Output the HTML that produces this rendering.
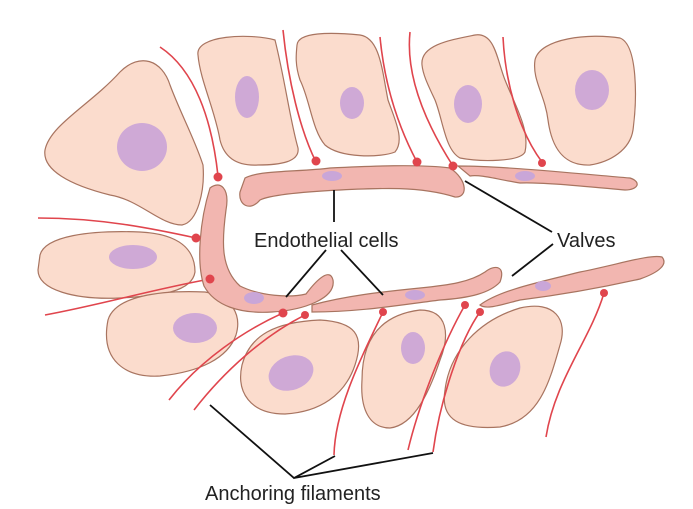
<!DOCTYPE html>
<html><head><meta charset="utf-8"><style>
html,body{margin:0;padding:0;background:#fff;width:693px;height:509px;overflow:hidden}
svg{display:block}
text{font-family:"Liberation Sans",sans-serif;fill:#222}
</style></head><body>
<svg width="693" height="509" viewBox="0 0 693 509">
<g fill="#fbdccd" stroke="#a87460" stroke-width="1.2">
<path d="M45,150 C50,125 90,105 120,72 C140,52 162,60 170,85 C180,112 195,140 203,165 C205,190 198,222 182,225 C160,225 140,200 110,195 C70,185 42,170 45,150 Z"/>
<path d="M198,55 C195,35 250,33 275,40 C285,80 290,120 298,148 C300,162 280,165 258,165 C240,166 225,160 220,140 C215,110 200,80 198,55 Z"/>
<path d="M297,45 C298,32 330,32 360,35 C380,38 382,70 388,100 C395,120 405,140 395,152 C380,158 340,158 325,145 C312,130 310,100 300,80 C295,65 296,55 297,45 Z"/>
<path d="M422,65 C420,45 450,40 475,35 C495,32 497,60 505,80 C515,105 530,130 525,152 C520,162 480,162 460,158 C445,150 443,120 435,100 C428,85 423,75 422,65 Z"/>
<path d="M535,60 C540,38 590,33 620,38 C638,45 637,100 633,130 C630,150 610,162 590,165 C565,166 552,150 548,120 C545,95 532,80 535,60 Z"/>
<path d="M40,255 C45,236 90,230 140,232 C180,234 195,250 195,272 C192,292 160,296 120,298 C75,300 38,290 38,270 Z"/>
<path d="M108,320 C115,296 160,290 205,292 C232,296 242,315 236,335 C228,358 200,372 160,376 C125,378 100,360 108,320 Z"/>
<path d="M242,365 C250,335 275,322 320,320 C355,322 365,335 355,365 C345,395 320,412 285,414 C250,414 236,392 242,365 Z"/>
<path d="M362,380 C362,340 380,315 420,310 C448,310 450,335 440,360 C430,390 415,425 390,428 C370,428 360,410 362,380 Z"/>
<path d="M445,390 C450,350 480,320 520,308 C555,300 568,320 560,345 C550,380 540,420 500,427 C460,430 440,420 445,390 Z"/>
</g>
<g fill="#cfa9d6">
<ellipse cx="142" cy="147" rx="25" ry="24"/>
<ellipse cx="247" cy="97" rx="12" ry="21"/>
<ellipse cx="352" cy="103" rx="12" ry="16"/>
<ellipse cx="468" cy="104" rx="14" ry="19"/>
<ellipse cx="592" cy="90" rx="17" ry="20"/>
<ellipse cx="133" cy="257" rx="24" ry="12"/>
<ellipse cx="195" cy="328" rx="22" ry="15"/>
<ellipse cx="291" cy="373" rx="23" ry="17" transform="rotate(-20 291 373)"/>
<ellipse cx="413" cy="348" rx="12" ry="16"/>
<ellipse cx="505" cy="369" rx="15" ry="18" transform="rotate(20 505 369)"/>
</g>
<g stroke="#e0454d" stroke-width="1.6" fill="none">
<path d="M160,47 C195,70 212,120 218,176"/>
<path d="M283,30 C288,80 300,130 316,162"/>
<path d="M380,37 C385,90 400,130 417,162"/>
<path d="M410,32 C405,80 430,130 453,166"/>
<path d="M503,37 C505,80 518,130 542,162"/>
<path d="M38,218 C100,218 150,228 196,238"/>
<path d="M45,315 C100,305 150,290 210,279"/>
<path d="M169,400 C200,360 245,330 283,313"/>
<path d="M194,410 C225,370 265,335 305,315"/>
<path d="M334,455 C335,410 360,360 383,312"/>
<path d="M408,450 C420,400 445,340 465,305"/>
<path d="M433,452 C440,400 460,340 480,312"/>
<path d="M546,437 C555,380 590,340 604,293"/>
</g>
<g fill="#f2b6b0" stroke="#a87460" stroke-width="1.2">
<path d="M245,178 C260,170 300,172 330,168 C370,166 420,164 450,168 C468,180 468,198 455,197 C420,186 380,188 340,190 C300,192 270,195 260,200 C250,212 238,205 240,192 Z"/>
<path d="M458,166 C500,166 560,172 630,178 C642,182 638,190 625,190 C580,186 540,182 520,183 C500,180 480,174 470,176 Z"/>
<path d="M210,188 C220,180 230,188 226,210 C222,240 220,268 240,286 C260,296 290,298 306,294 C318,278 330,268 333,280 C336,298 305,310 272,312 C240,314 215,306 204,286 C196,262 200,220 210,188 Z"/>
<path d="M312,305 C345,296 380,292 420,288 C450,285 470,282 485,272 C495,264 506,266 500,282 C490,293 470,298 440,300 C400,305 360,312 312,312 Z"/>
<path d="M480,305 C500,290 540,282 580,272 C620,264 650,254 662,257 C668,264 660,272 640,279 C600,288 560,295 520,300 C500,305 486,310 480,305 Z"/>
</g>
<g fill="#c9a6d8">
<ellipse cx="332" cy="176" rx="10" ry="5"/>
<ellipse cx="525" cy="176" rx="10" ry="5"/>
<ellipse cx="254" cy="298" rx="10" ry="6"/>
<ellipse cx="415" cy="295" rx="10" ry="5"/>
<ellipse cx="543" cy="286" rx="8" ry="5"/>
</g>
<g fill="#e0454d">
<circle cx="218" cy="177" r="4.5"/><circle cx="316" cy="161" r="4.5"/><circle cx="417" cy="162" r="4.5"/>
<circle cx="453" cy="166" r="4.5"/><circle cx="542" cy="163" r="4"/><circle cx="196" cy="238" r="4.5"/>
<circle cx="210" cy="279" r="4.5"/><circle cx="283" cy="313" r="4.5"/><circle cx="305" cy="315" r="4"/>
<circle cx="383" cy="312" r="4"/><circle cx="465" cy="305" r="4"/><circle cx="480" cy="312" r="4"/>
<circle cx="604" cy="293" r="4"/>
</g>
<g stroke="#111" stroke-width="1.8" fill="none">
<path d="M334,190 L334,222"/>
<path d="M326,250 L286,297"/>
<path d="M341,250 L383,295"/>
<path d="M465,181 L552,232"/>
<path d="M553,244 L512,276"/>
<path d="M210,405 L294,478 L335,456 M294,478 L433,453"/>
</g>
<text x="254" y="247" font-size="20">Endothelial cells</text>
<text x="557" y="247" font-size="20">Valves</text>
<text x="205" y="500" font-size="20">Anchoring filaments</text>
</svg>
</body></html>
